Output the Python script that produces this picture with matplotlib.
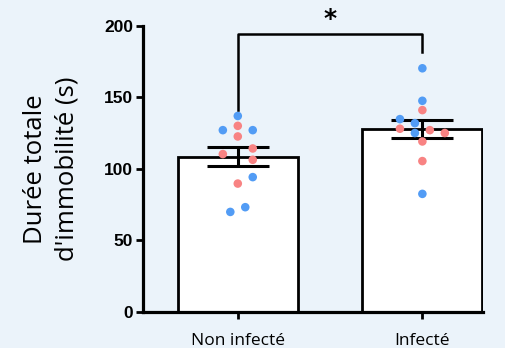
import matplotlib
matplotlib.use("Agg")
import matplotlib.pyplot as plt
import numpy as np

categories = ["Non infecté", "Infecté"]
means = [108.4, 127.9]
sems = [6.5, 6.4]

g1_values = [136.9, 130.0, 127.0, 127.0, 122.6, 110.3, 114.2, 106.3, 94.2, 89.7, 73.2, 69.9]
g1_colors = ["b", "r", "b", "b", "r", "r", "r", "r", "b", "r", "b", "b"]
g1_jitter = [0, 0, -1, 1, 0, -1, 1, 1, 1, 0, 0.5, -0.5]

g2_values = [170.2, 147.5, 141.0, 134.7, 131.9, 128.0, 127.0, 125.0, 125.0, 119.1, 105.4, 82.5]
g2_colors = ["b", "b", "r", "b", "b", "r", "r", "r", "b", "r", "r", "b"]
g2_jitter = [0, 0, 0, -1.5, -0.5, -1.5, 0.5, 1.5, -0.5, 0, 0, 0]

yticks = [0, 50, 100, 150, 200]
ylabel = "Durée totale\nd'immobilité (s)"
sig_label = "*"

BG = "#EBF3FA"
COL = {"b": "#529CF5", "r": "#F88383"}
STEP = 0.081

fig = plt.figure(figsize=(5.05, 3.48), dpi=100, facecolor=BG)
ax = fig.add_axes([0.283, 0.1034, 0.674, 0.823])
ax.set_facecolor(BG)

x = np.arange(len(categories))
ax.bar(x, means, width=0.65, color="white", edgecolor="black", linewidth=2.0, zorder=1)
ax.errorbar(x, means, yerr=sems, fmt="none", ecolor="black", elinewidth=2.2,
            capsize=22, capthick=2.2, zorder=2)

for xi, vals, cols, jit in [(0, g1_values, g1_colors, g1_jitter),
                            (1, g2_values, g2_colors, g2_jitter)]:
    xs = [xi + j * STEP for j in jit]
    ax.scatter(xs, vals, s=38, c=[COL[c] for c in cols], linewidths=0, zorder=3)

# significance bracket
ax.plot([0, 0, 1, 1], [141, 194.4, 194.4, 181.8], color="black", lw=1.8,
        clip_on=False, zorder=4)
ax.text(0.5, 196, sig_label, ha="center", va="bottom", fontsize=18,
        fontweight="bold", family="DejaVu Sans", clip_on=False)

ax.set_xlim(-0.514, 1.33)
ax.set_ylim(0, 200)
ax.set_yticks(yticks)
ax.set_yticklabels([str(t) for t in yticks], fontsize=12.5, fontweight="bold",
                   family="Liberation Sans")
ax.set_xticks(x)
ax.set_xticklabels(categories, fontsize=12.5, family="Open Sans")
ax.set_ylabel(ylabel, fontsize=18.5, family="Open Sans", labelpad=18, linespacing=1.3)

for s in ["top", "right"]:
    ax.spines[s].set_visible(False)
for s in ["left", "bottom"]:
    ax.spines[s].set_linewidth(2.3)
ax.tick_params(axis="y", length=5, width=2.0, pad=2)
ax.tick_params(axis="x", length=5, width=2.0, pad=10)

fig.savefig("out.png", dpi=100, facecolor=BG)
